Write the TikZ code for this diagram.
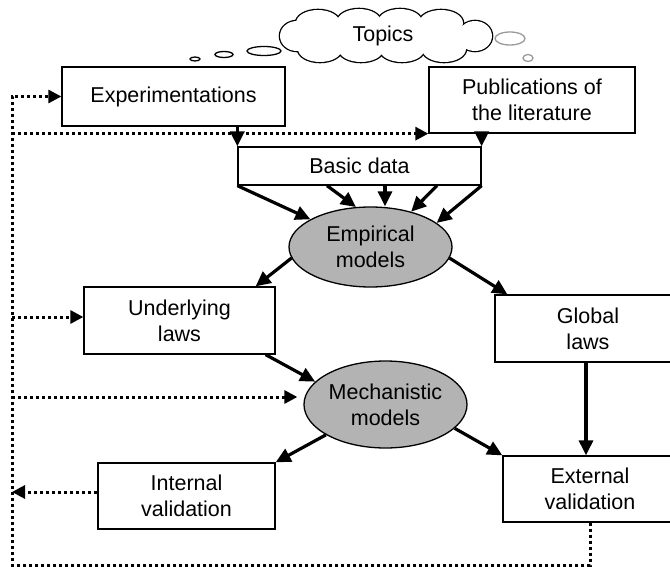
\documentclass[tikz,border=0pt]{standalone}
\usepackage{fontspec}
\setmainfont{Liberation Sans}
\usetikzlibrary{arrows.meta,shapes.geometric,calc}
\definecolor{ellfill}{HTML}{B3B3B3}
\definecolor{bubgray}{HTML}{9A9A9A}
\begin{document}
\begin{tikzpicture}[x=1pt,y=-1pt,
 every node/.style={font=\fontsize{21.5}{26}\selectfont},
 box/.style={draw,line width=1.3pt,rectangle,inner sep=0pt,align=center},
 ell/.style={draw,ellipse,fill=ellfill,line width=1.3pt,inner sep=0pt,align=center},
 arr/.style={line width=3.2pt,-{Triangle[length=15pt,width=14pt]}},
 dotline/.style={line width=3pt,dash pattern=on 3pt off 3pt},
 dotarr/.style={dotline,-{Triangle[length=13pt,width=13pt]}},
 bubble/.style={line width=1.3pt}]
\useasboundingbox (0,0) rectangle (670,567);
\clip (0,0) rectangle (670,567);

% thought cloud: union of puffs (stroke, then white fill hides inner arcs)
\def\puffs{318/23/22/13, 359/22/22/13, 400/22/22/13, 441/23/22/13,
           320/49/22/13, 361/50/22/12, 402/50/22/12, 444/49/22/13,
           297/36/17/15, 475/36/17/15, 386/36/90/14}
\foreach \cx/\cy/\rx/\ry in \puffs
  \draw[line width=2.6pt] (\cx,\cy) ellipse [x radius=\rx, y radius=\ry];
\foreach \cx/\cy/\rx/\ry in \puffs
  \fill[white] (\cx,\cy) ellipse [x radius=\rx, y radius=\ry];
\node (topics) at (383,36) {Topics};
\draw[bubble] (195,59) ellipse [x radius=5, y radius=2];
\draw[bubble] (224,54.5) ellipse [x radius=9, y radius=3];
\draw[bubble] (264,51) ellipse [x radius=17, y radius=4.5];
\draw[bubble,bubgray] (510,38.5) ellipse [x radius=15, y radius=6.5];
\draw[bubble,bubgray] (528,58) ellipse [x radius=5, y radius=3.5];

% nodes
\node[box, minimum width=223pt, minimum height=59pt] (exp) at (173.5,96.5) {Experimentations};
\node[box, minimum width=206pt, minimum height=66pt] (pub) at (532,100) {Publications of\\the literature};
\node[box, minimum width=243pt, minimum height=38pt] (basic) at (359.5,166) {Basic data};
\node[ell, minimum width=163pt, minimum height=80pt] (emp) at (370.5,247) {Empirical\\models};
\node[box, minimum width=191pt, minimum height=67pt] (under) at (179.5,320.5) {Underlying\\laws};
\node[box, minimum width=186pt, minimum height=67pt] (glob) at (588,328.5) {Global\\laws};
\node[ell, minimum width=163pt, minimum height=87pt] (mech) at (385.5,404.5) {Mechanistic\\models};
\node[box, minimum width=177pt, minimum height=66pt] (intern) at (186.5,496) {Internal\\validation};
\node[box, minimum width=174pt, minimum height=66pt] (ext) at (590,489) {External\\validation};

% helper coordinates for the feedback loop
\coordinate (bot) at (12,565);
\coordinate (ul) at (12,317);
\coordinate (ml) at (12,397);

% dotted feedback
\draw[dotarr] (ext.south) -- (ext.south |- bot) -- (bot) -- (exp.west -| bot) -- (exp.west);
\draw[dotarr] (pub.south west -| bot) -- (pub.south west);
\draw[dotarr] (ul) -- (ul -| under.west);
\draw[dotarr, shorten >=6pt] (ml) -- (ml -| mech.west);
\draw[dotarr] ([yshift=4pt]intern.west) -- ([yshift=4pt]intern.west -| bot);

% solid arrows
\draw[arr] (basic.north west |- exp.south) -- (basic.north west);
\draw[arr] (basic.north east |- pub.south) -- (basic.north east);
\draw[arr] (basic.south west) -- (emp);
\draw[arr] ([xshift=-32.5pt]basic.south) -- (emp.110.7);
\draw[arr] ([xshift=25.5pt]basic.south) -- ([xshift=25.5pt]basic.south |- emp.north);
\draw[arr] ([xshift=77.5pt]basic.south) -- (emp.41);
\draw[arr] (basic.south east) -- (emp.20);
\draw[arr] (emp.188) -- ([xshift=-20pt]under.north east);
\draw[arr] (emp.-8) -- ([xshift=13pt]glob.north west);
\draw[arr] ([xshift=-10pt]under.south east) -- (mech.162);
\draw[arr] (mech.207) -- (intern.north east);
\draw[arr] (mech.-19) -- (ext.north west);
\draw[arr] ([xshift=-2pt]glob.south) -- ([xshift=-2pt]glob.south |- ext.north);
\end{tikzpicture}
\end{document}
